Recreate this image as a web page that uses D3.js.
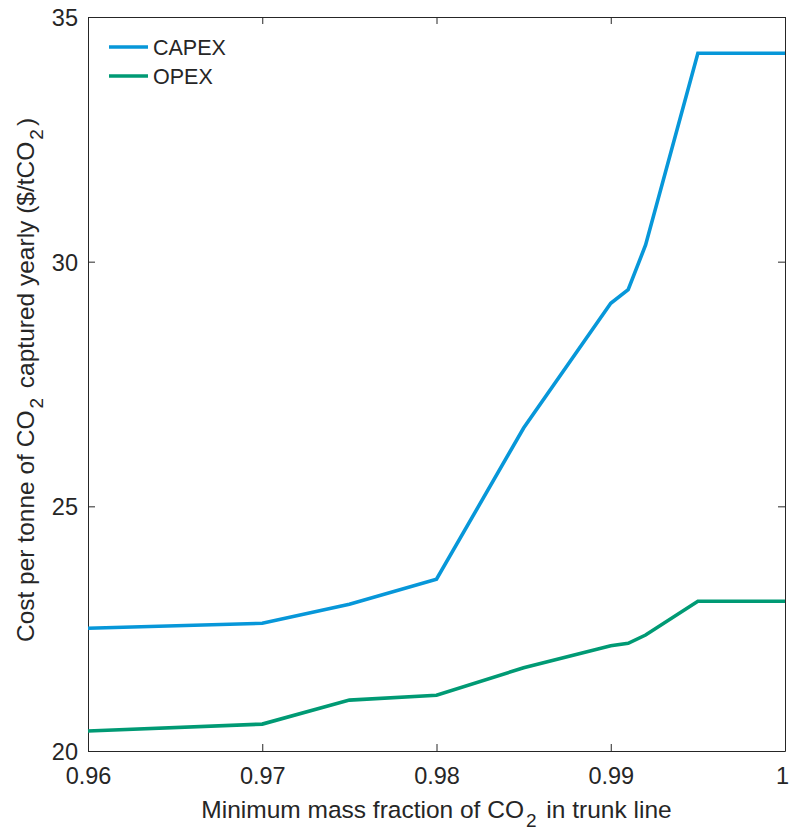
<!DOCTYPE html>
<html>
<head>
<meta charset="utf-8">
<script src="https://cdn.jsdelivr.net/npm/d3@7"></script>
<style>
  body { margin: 0; background: #fff; }
  svg { display: block; }
  text { font-family: "Liberation Sans", Arial, sans-serif; fill: #262626; }
</style>
</head>
<body>
<div id="chart"></div>
<script>
// data
var fractions = [0.96, 0.97, 0.975, 0.98, 0.985, 0.99, 0.991, 0.992, 0.995, 1.0];
var capex = [22.51, 22.61, 23.00, 23.51, 26.60, 29.15, 29.43, 30.34, 34.26, 34.26];
var opex = [20.41, 20.55, 21.04, 21.14, 21.70, 22.15, 22.20, 22.37, 23.06, 23.06];
var xTicks = [0.96, 0.97, 0.98, 0.99, 1];
var yTicks = [20, 25, 30, 35];
var seriesNames = ["CAPEX", "OPEX"];
var seriesColors = ["#0797d9", "#009a74"];

var svgWidth = 790;
var svgHeight = 830;
var margin = { top: 17, right: 5, bottom: 79, left: 88 };
var width = svgWidth - margin.left - margin.right;
var height = svgHeight - margin.top - margin.bottom;

var svg = d3.select("#chart")
  .append("svg")
  .attr("width", svgWidth)
  .attr("height", svgHeight);

var chartGroup = svg.append("g")
  .attr("transform", `translate(${margin.left}, ${margin.top})`);

var xScale = d3.scaleLinear().domain([0.96, 1]).range([0, width]);
var yScale = d3.scaleLinear().domain([20, 35]).range([height, 0]);

var tickLen = 7;

// axes, ticks pointing inward like matlab
var bottomAxis = d3.axisBottom(xScale).tickValues(xTicks)
  .tickFormat(d => d === 1 ? "1" : d3.format(".2f")(d))
  .tickSizeInner(-tickLen).tickSizeOuter(0).tickPadding(16);
var leftAxis = d3.axisLeft(yScale).tickValues(yTicks)
  .tickSizeInner(-tickLen).tickSizeOuter(0).tickPadding(10);
var topAxis = d3.axisTop(xScale).tickValues(xTicks).tickFormat("")
  .tickSizeInner(-tickLen).tickSizeOuter(0);
var rightAxis = d3.axisRight(yScale).tickValues(yTicks).tickFormat("")
  .tickSizeInner(-tickLen).tickSizeOuter(0);

var xAxis = chartGroup.append("g")
  .attr("transform", `translate(0, ${height})`)
  .call(bottomAxis);
var yAxis = chartGroup.append("g").call(leftAxis);
var tAxis = chartGroup.append("g").call(topAxis);
var rAxis = chartGroup.append("g")
  .attr("transform", `translate(${width}, 0)`)
  .call(rightAxis);

[xAxis, yAxis, tAxis, rAxis].forEach(a => {
  a.select(".domain").attr("stroke", "#262626").attr("stroke-width", 1);
  a.selectAll(".tick line").attr("stroke", "#262626");
  a.selectAll(".tick text")
    .attr("fill", "#262626")
    .style("font-family", "Liberation Sans, Arial, sans-serif")
    .style("font-size", "23.5px");
});
yAxis.selectAll(".tick text").attr("dy", "0.36em");
// keep the last label inside the window
xAxis.selectAll(".tick text").filter(d => d === 1).attr("dx", -3);

// lines
var line = d3.line()
  .x((d, i) => xScale(fractions[i]))
  .y(d => yScale(d));

[capex, opex].forEach((vals, i) => {
  chartGroup.append("path")
    .datum(vals)
    .attr("fill", "none")
    .attr("stroke", seriesColors[i])
    .attr("stroke-width", 3.6)
    .attr("stroke-linejoin", "miter")
    .attr("d", line);
});

// legend
var legend = chartGroup.append("g")
  .attr("transform", "translate(21, 30)");
seriesNames.forEach((name, i) => {
  var row = legend.append("g").attr("transform", `translate(0, ${i * 29})`);
  row.append("line")
    .attr("x1", 0).attr("x2", 39)
    .attr("stroke", seriesColors[i])
    .attr("stroke-width", 3.6);
  row.append("text")
    .attr("x", 44)
    .attr("dy", "0.36em")
    .style("font-size", "21.5px")
    .text(name);
});

// axis labels (matlab style subscripts leave a small gap after them)
var xLabel = svg.append("text")
  .attr("x", margin.left + width / 2)
  .attr("y", 818)
  .attr("text-anchor", "middle")
  .style("font-size", "24.5px");
xLabel.append("tspan").text("Minimum mass fraction of CO");
xLabel.append("tspan").attr("dy", 9).attr("dx", 2).style("font-size", "19px").text("2");
xLabel.append("tspan").attr("dy", -9).attr("dx", 3).text(" in trunk line");

var yLabel = svg.append("text")
  .attr("transform", `translate(34, 380) rotate(-90)`)
  .attr("text-anchor", "middle")
  .style("font-size", "24.5px");
yLabel.append("tspan").text("Cost per tonne of CO");
yLabel.append("tspan").attr("dy", 9).attr("dx", 2).style("font-size", "19px").text("2");
yLabel.append("tspan").attr("dy", -9).attr("dx", 3).text(" captured yearly ($/tCO");
yLabel.append("tspan").attr("dy", 9).attr("dx", 2).style("font-size", "19px").text("2");
yLabel.append("tspan").attr("dy", -9).attr("dx", 3).text(")");
</script>
</body>
</html>
